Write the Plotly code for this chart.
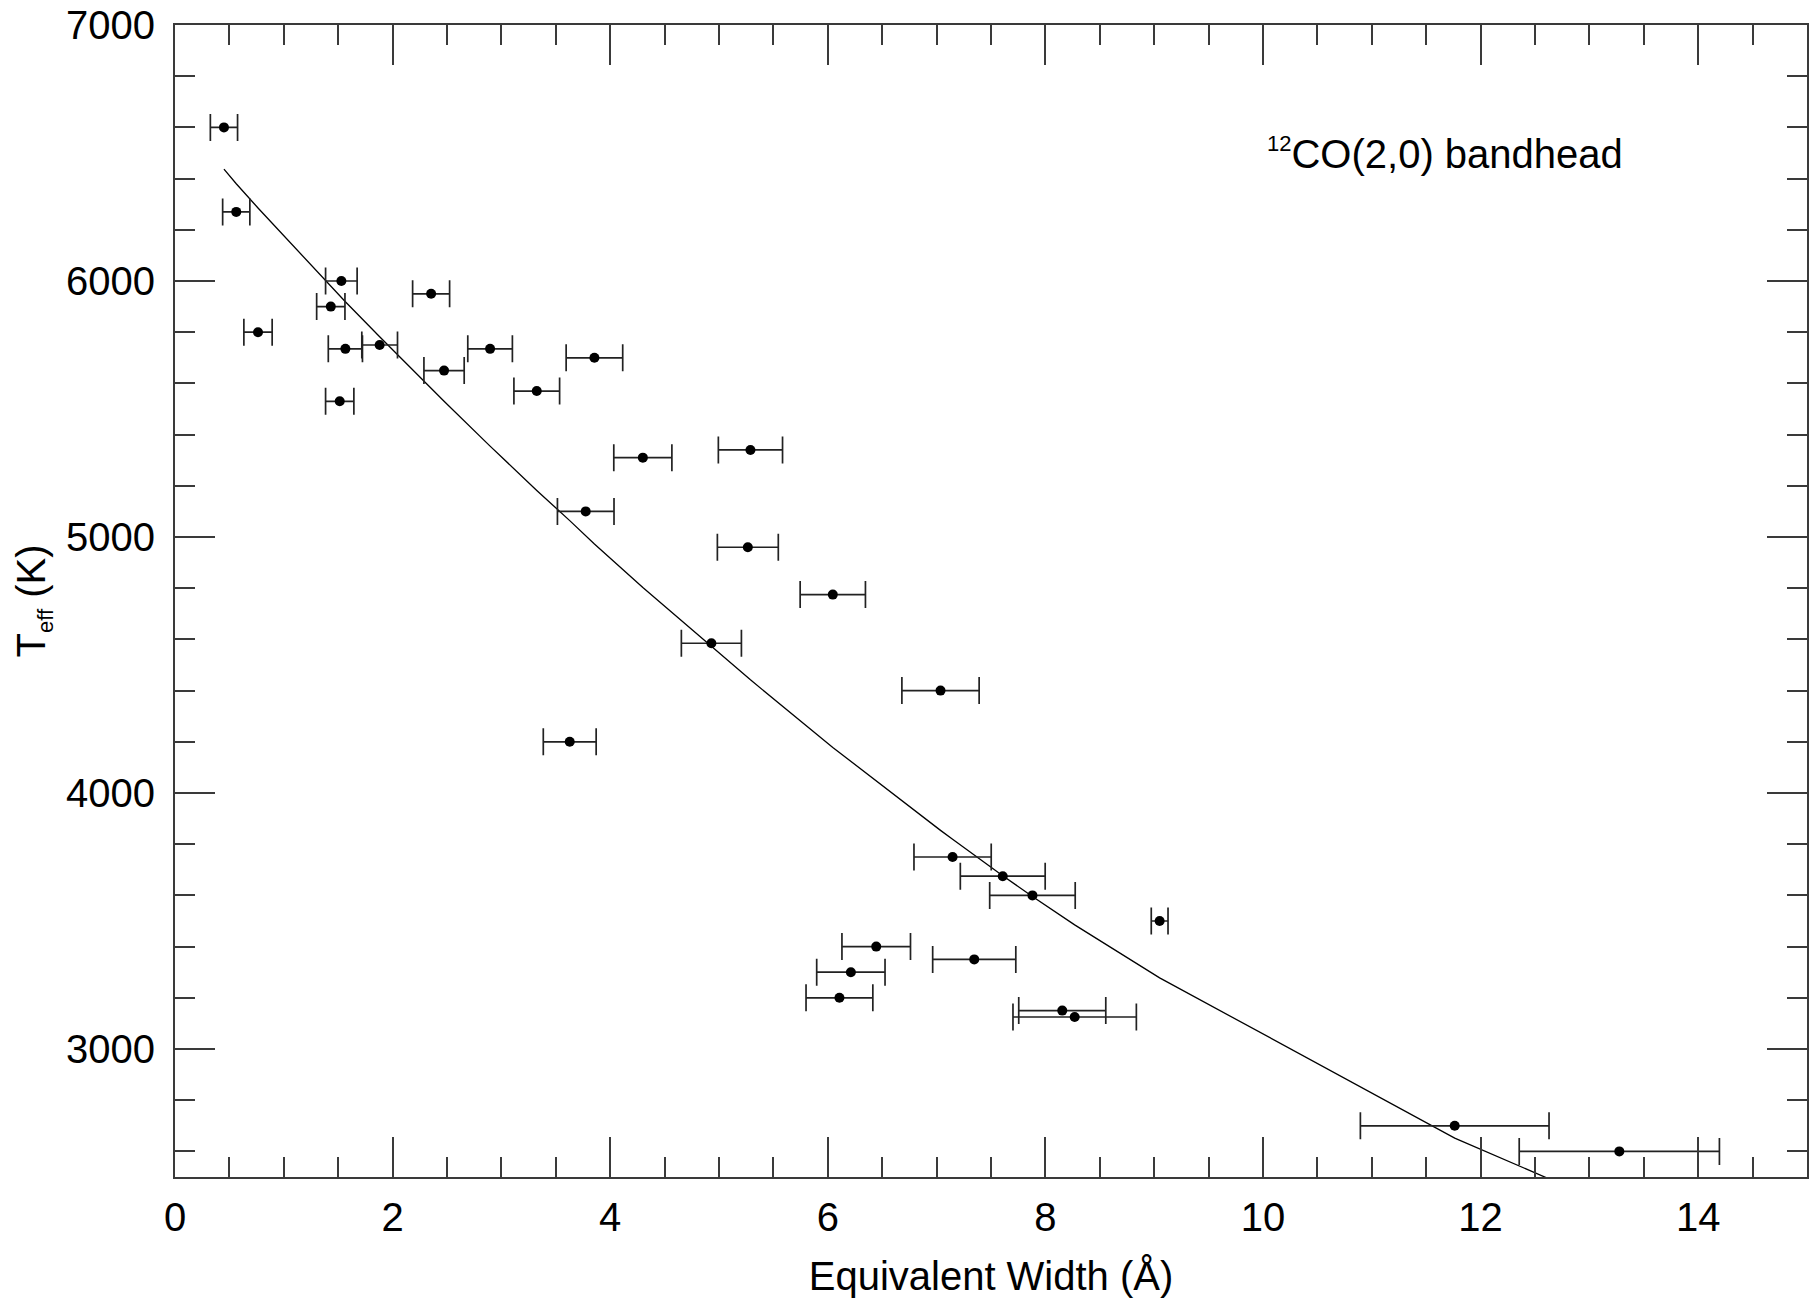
import plotly.graph_objects as go

# CO(2,0) bandhead equivalent widths (Angstrom), 1-sigma errors, and effective temperatures (K)
ew = [0.450, 0.563, 0.763, 1.432, 1.514, 1.529, 1.566, 1.881, 2.354, 2.473, 2.896,
      3.325, 3.628, 3.775, 3.855, 4.300, 4.930, 5.265, 5.289, 6.046, 6.107, 6.212,
      6.445, 7.036, 7.147, 7.346, 7.608, 7.881, 8.155, 8.269, 9.050, 11.762, 13.275]
ew_err = [0.125, 0.125, 0.130, 0.130, 0.130, 0.145, 0.157, 0.164, 0.170, 0.185, 0.205,
          0.210, 0.243, 0.260, 0.260, 0.267, 0.276, 0.280, 0.295, 0.300, 0.307, 0.314,
          0.315, 0.355, 0.355, 0.382, 0.390, 0.393, 0.400, 0.567, 0.077, 0.867, 0.920]
teff = [6600, 6270, 5800, 5900, 5530, 6000, 5735, 5750, 5950, 5650, 5735,
        5570, 4200, 5100, 5700, 5310, 4585, 4960, 5340, 4775, 3200, 3300,
        3400, 4400, 3750, 3350, 3675, 3600, 3150, 3125, 3500, 2700, 2600]

# Calibration curve evaluated at each measured equivalent width
fit_ew = sorted(ew)
fit_teff = [6437, 6380, 6285, 5980, 5943, 5936, 5919, 5782, 5580, 5530, 5355,
            5182, 5064, 5004, 4973, 4803, 4572, 4450, 4442, 4178, 4158, 4123,
            4045, 3854, 3819, 3757, 3677, 3596, 3517, 3485, 3278, 2652, 2374]

x_ticks = [0, 2, 4, 6, 8, 10, 12, 14]
y_ticks = [3000, 4000, 5000, 6000, 7000]

FONT = "Liberation Sans, Arial, Helvetica, sans-serif"
AXIS_COLOR = "#3a3a3a"

fig = go.Figure()

fig.add_trace(go.Scatter(
    x=fit_ew, y=fit_teff, mode="lines",
    line=dict(color="black", width=1.3),
    hoverinfo="skip", showlegend=False,
))

fig.add_trace(go.Scatter(
    x=ew, y=teff, mode="markers",
    marker=dict(color="black", size=10),
    error_x=dict(type="data", array=ew_err, visible=True,
                 color="#222222", thickness=1.7, width=13.5),
    showlegend=False,
))

fig.add_annotation(
    x=10.02, y=6500, xref="x", yref="y", xanchor="left", yanchor="middle",
    text="<sup><span style='font-size:22px'>12</span></sup>CO(2,0) bandhead",
    showarrow=False, font=dict(family=FONT, size=40, color="black"),
)

axis_common = dict(
    showline=True, linecolor=AXIS_COLOR, linewidth=2, mirror="allticks",
    ticks="inside", ticklen=40, tickwidth=1.6, tickcolor=AXIS_COLOR,
    showgrid=False, zeroline=False, automargin=False,
    tickfont=dict(family=FONT, size=40, color="black"),
)

fig.update_xaxes(
    range=[0, 15], tickmode="array", tickvals=x_ticks,
    minor=dict(dtick=0.5, ticks="inside", ticklen=20, tickwidth=1.6,
               tickcolor=AXIS_COLOR, showgrid=False),
    title=dict(text="Equivalent Width (Å)", font=dict(family=FONT, size=40, color="black"),
               standoff=24),
    ticklabelstandoff=4,
    **axis_common,
)
fig.update_yaxes(
    range=[2500, 7000], tickmode="array", tickvals=y_ticks,
    minor=dict(dtick=200, ticks="inside", ticklen=20, tickwidth=1.6,
               tickcolor=AXIS_COLOR, showgrid=False),
    title=dict(text="T<sub><span style='font-size:22px'>eff</span></sub> (K)",
               font=dict(family=FONT, size=40, color="black"), standoff=8),
    ticklabelstandoff=10,
    **axis_common,
)

fig.update_layout(
    template="none",
    width=1817, height=1302,
    margin=dict(l=175, r=10, t=25, b=125, pad=0),
    paper_bgcolor="white", plot_bgcolor="white",
    font=dict(family=FONT, color="black"),
)

fig.write_html("out.html")
